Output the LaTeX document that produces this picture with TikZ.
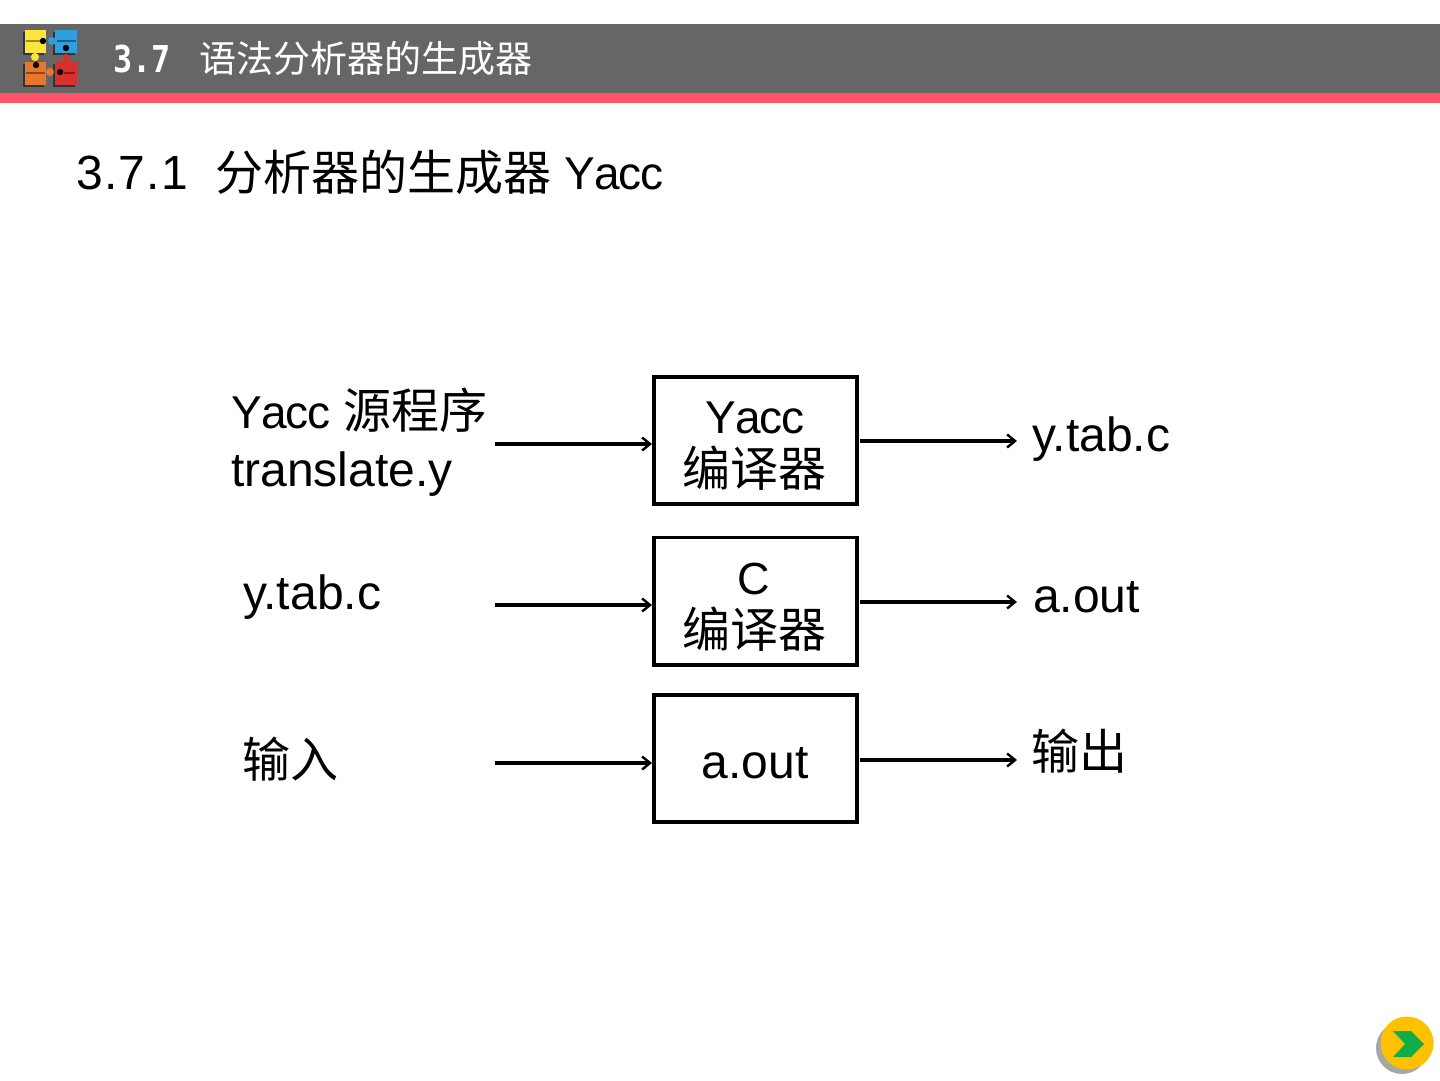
\documentclass[tikz,border=0pt]{standalone}
\usepackage{graphicx}
\usepackage{fontspec}
\setmainfont{Liberation Sans}
\newfontfamily\cjk{Noto Sans CJK SC}
\newfontfamily\headmono{DejaVu Sans Mono}
\newcommand{\bigtxt}{\fontsize{48}{57}\selectfont}
\newcommand{\cjktxt}{\cjk\fontsize{48}{52}\selectfont}
\newcommand{\yaccw}{{\fontsize{46}{57}\selectfont Y\kern-.8pt a\kern-1.1pt c\kern-1.1pt c}}
\definecolor{headgray}{HTML}{666666}
\definecolor{headred}{HTML}{FF5566}
\definecolor{pyellow}{HTML}{FFE53B}
\definecolor{pblue}{HTML}{2F9FE0}
\definecolor{porange}{HTML}{E8762D}
\definecolor{pred}{HTML}{D8302C}
\definecolor{btnyellow}{HTML}{FFC000}
\definecolor{btngreen}{HTML}{12AD4B}
\definecolor{btngray}{HTML}{A6A6A6}
\usetikzlibrary{arrows.meta}
\tikzset{
  x=1pt,y=-1pt,
  procbox/.style={draw=black,line width=3.6pt,minimum width=203.4pt,minimum height=127.4pt,inner sep=0pt,align=center},
  flow/.style={draw=black,line width=3.4pt,-{Straight Barb[length=8pt,width=13pt,line width=2.4pt]}},
  lbl/.style={inner sep=0pt,anchor=base west},
  ctr/.style={inner sep=0pt,anchor=base},
  headtxt/.style={inner sep=0pt,anchor=base west,text=white},
  smudge/.style={draw=black,line width=1.4pt,opacity=.4},
}
\begin{document}
\begin{tikzpicture}
\useasboundingbox (0,0) rectangle (1440,1080);
\fill[white] (0,0) rectangle (1440,1080);
% header
\fill[headgray] (0,24) rectangle (1440,93);
\fill[headred] (0,93) rectangle (1440,103);
% logo
\fill[black!80] (23,32) rectangle (44,55);
\fill[pyellow] (25,30) rectangle (46,53);
\fill[black!80] (53,32) rectangle (75,55);
\fill[pblue] (55,30) rectangle (77,53);
\fill[black!80] (23,64) rectangle (44,87);
\fill[porange] (25,62) rectangle (46,85);
\fill[black!80] (53,64) rectangle (75,87);
\fill[pred] (55,62) rectangle (77,85);
\fill[pyellow] (35,57) circle (4);
\fill[pblue] (52,41) circle (4);
\fill[porange] (50,72) circle (4);
\fill[pred] (66,58) circle (4);
\fill[black] (43,41) circle (3.2);
\fill[black] (66,48) circle (3.2);
\fill[black] (36,65) circle (3.2);
\fill[black] (60,72) circle (3.2);
\draw[smudge] (26,41) -- (40,41);
\draw[smudge] (57,41) -- (76,41);
\draw[smudge] (26,73) -- (45,73);
\draw[smudge] (64,73) -- (75,73);
\node[headtxt] (headnum) at (113,72) {\scalebox{0.86}[1]{\headmono\bfseries\fontsize{37}{40}\selectfont 3.7}};
\node[headtxt] (headcn) at (199,72) {\cjk\fontsize{37}{40}\selectfont 语法分析器的生成器};
% subtitle
\node[lbl] (subnum) at (76,189) {\bigtxt 3\kern1.25pt.\kern1.25pt 7\kern1.25pt.\kern1.25pt 1};
\node[lbl] (subcn) at (215,190) {\cjktxt 分析器的生成器};
\node[lbl] (subyacc) at (564,189) {\bigtxt\yaccw};
% boxes
\node[procbox] (b1) at (755.5,440.5) {};
\node[procbox] (b2) at (755.5,601) {};
\node[procbox] (b3) at (755.5,758.5) {};
\node[ctr] (b1a) at (755,433) {\bigtxt\yaccw};
\node[ctr] (b1b) at (754,486) {\cjktxt 编译器};
\node[ctr] (b2a) at (754,594) {\fontsize{45}{57}\selectfont C};
\node[ctr] (b2b) at (754,647) {\cjktxt 编译器};
\node[ctr] (b3a) at (755,778) {\bigtxt a.out};
% left labels
\node[lbl] (l1a) at (231,428) {\bigtxt\yaccw\hspace{13pt}\cjk 源程序};
\node[lbl] (l1b) at (231,486) {\bigtxt translate.y};
\node[lbl] (l2) at (243,609) {\bigtxt y.tab.c};
\node[lbl] (l3) at (242,777) {\cjktxt 输入};
% right labels
\node[lbl] (r1) at (1032,451) {\bigtxt y.tab.c};
\node[lbl] (r2) at (1033,612) {\bigtxt a.out};
\node[lbl] (r3) at (1031,769) {\cjktxt 输出};
% connector ends
\coordinate (s1) at (495,444);
\coordinate (s2) at (495,605);
\coordinate (s3) at (495,763);
\coordinate (e1) at (1017,441);
\coordinate (e2) at (1017,602);
\coordinate (e3) at (1017,760);
\draw[flow] (s1) -- (s1 -| b1.west);
\draw[flow] (s2) -- (s2 -| b2.west);
\draw[flow] (s3) -- (s3 -| b3.west);
\draw[flow] (e1 -| b1.east) ++(1,0) -- (e1);
\draw[flow] (e2 -| b2.east) ++(1,0) -- (e2);
\draw[flow] (e3 -| b3.east) ++(1,0) -- (e3);
% button
\fill[btngray] (1402,1048) circle (26);
\fill[btnyellow] (1407,1043) circle (26.5);
\fill[btngreen] (1393,1031) -- (1411,1031) -- (1424,1044) -- (1411,1057) -- (1393,1057) -- (1405,1044) -- cycle;
\end{tikzpicture}
\end{document}
